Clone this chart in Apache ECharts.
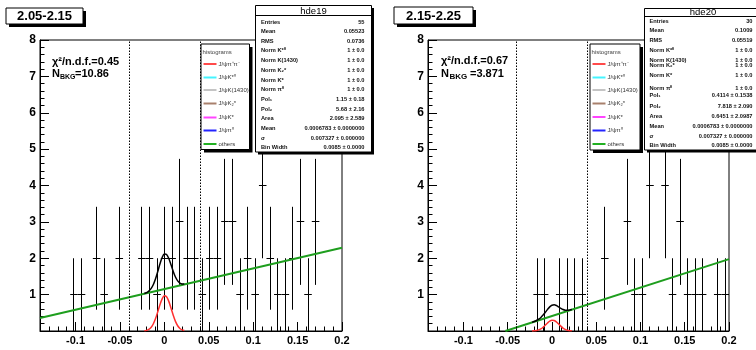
<!DOCTYPE html>
<html><head><meta charset="utf-8">
<script src="https://cdn.jsdelivr.net/npm/echarts@6/dist/echarts.min.js"></script>
<style>html,body{margin:0;padding:0;background:#fff}#c{width:756px;height:350px}</style>
</head><body><div id="c"></div>
<script>
// ---------------- data ----------------
const binLow = -0.14;
const binWidth = 0.0085;
const countsA = [0,0,0,0,1,1,0,2,1,0, 2,0,0,2,2,1,2,2,3,2, 2,1,2,2,3,3,1,2,1,4, 2,1,1,2,3,1,3,0,0,0];
const countsB = [0,0,0,0,0,0,0,0,0,0, 0,0,0,0,1,1,0,1,1,1, 1,0,0,2,0,0,3,1,1,4, 0,4,1,3,1,1,1,0,1,1];
const fitX   = [-0.0225,-0.02,-0.0175,-0.015,-0.0125,-0.01,-0.0075,-0.005,-0.0025,0,0.0025,0.005,0.0075,0.01,0.0125,0.015,0.0175,0.02,0.0225];
const redA   = [0.0065,0.018,0.045,0.098,0.192,0.336,0.520,0.719,0.883,0.966,0.940,0.815,0.629,0.432,0.264,0.144,0.070,0.030,0.0115];
const blackA = [1.029,1.054,1.095,1.163,1.271,1.429,1.627,1.841,2.019,2.116,2.104,1.993,1.822,1.639,1.485,1.379,1.319,1.294,1.289];
const redB   = [0.002,0.0055,0.0138,0.0302,0.0591,0.1035,0.160,0.2215,0.272,0.2975,0.2895,0.251,0.1937,0.133,0.0813,0.0444,0.0214,0.0092,0.0035];
const blackB = [0.2375,0.2605,0.288,0.324,0.373,0.437,0.513,0.594,0.664,0.709,0.720,0.701,0.664,0.623,0.590,0.573,0.570,0.577,0.591];
const greenAx = [-0.14, 0.2];
const greenAy = [0.355, 2.286];
const greenBx = [-0.0526, 0.2];
const greenBy = [0, 1.975];
const windowEdges = [-0.04, 0.04];
const xTickValues = [-0.1,-0.05,0,0.05,0.1,0.15,0.2];
const xTickLabels = ['-0.1','-0.05','0','0.05','0.1','0.15','0.2'];
const panelTitles = ['2.05-2.15','2.15-2.25'];
const statTitles = ['hde19','hde20'];
const chiTexts = ['\u03C7\u00B2/n.d.f.=0.45','\u03C7\u00B2/n.d.f.=0.67'];
const nbkgValues = ['=10.86','=3.871'];
const statLabels = ['Entries','Mean','RMS','Norm K*\u2070','Norm K(1430)','Norm K\u2082*','Norm K*','Norm \u03C0\u2070','Pol\u2081','Pol\u2082','Area','Mean','\u03C3','Bin Width'];
const statValuesA = ['55','0.05523','0.0736','1 \u00B1 0.0','1 \u00B1 0.0','1 \u00B1 0.0','1 \u00B1 0.0','1 \u00B1 0.0','1.15 \u00B1 0.18','5.68 \u00B1 2.16','2.095 \u00B1 2.589','0.0006783 \u00B1 0.0000000','0.007327 \u00B1 0.000000','0.0085 \u00B1 0.0000'];
const statValuesB = ['30','0.1009','0.05519','1 \u00B1 0.0','1 \u00B1 0.0','1 \u00B1 0.0','1 \u00B1 0.0','1 \u00B1 0.0','0.4114 \u00B1 0.1538','7.818 \u00B1 2.090','0.6451 \u00B1 2.0987','0.0006783 \u00B1 0.0000000','0.007327 \u00B1 0.000000','0.0085 \u00B1 0.0000'];
const legendHeader = 'histograms';
const legendLabels = ['J/\u03C8\u03C0\u207A\u03C0\u207B','J/\u03C8K*\u2070','J/\u03C8K(1430)','J/\u03C8K\u2082*','J/\u03C8K*','J/\u03C8\u03C0\u2070','others'];
const legendColors = ['#ff4a4a','#44f4ff','#c4c4c4','#a8806c','#ff44ff','#2424ff','#22b022'];

// ---------------- layout ----------------
const FONT = '"Liberation Sans", Arial, Helvetica, sans-serif';
const grids = [
  {left:40, top:40, width:302, height:291},
  {left:428, top:40, width:301, height:291}
];
const layouts = [
  {title:{x:6,y:8,w:77,h:16}, chi:{x:52,y:62}, nb:{x:52,y:74,sub:60,eq:75,subSize:7},
   stats:{x:255.5,y:5.5,w:116,h:146.5,sep:15.5,tx:313.5,ty:11,lx:261,vx:364.5,
          rows:[22,31.7,41,50,60,70,80,89,99,109,118,128,138,147]},
   leg:{x:201,y:44,w:48.5,h:105.5,head:52,rows:[64,77.5,90,103.5,117.5,130.5,144]}},
  {title:{x:394,y:7,w:79,h:17}, chi:{x:441,y:61}, nb:{x:441,y:74,sub:449.5,eq:470,subSize:8},
   stats:{x:644.5,y:8.5,w:118,h:141.5,sep:16.5,tx:703,ty:12.5,lx:649.5,vx:752.5,
          rows:[21,30.7,40,50.7,60.3,65.5,75,88.5,95.7,106,116.7,126.7,136,145.7]},
   leg:{x:590,y:44,w:50,h:106,head:52,rows:[64,77.5,90,103.5,117,130.5,144]}}
];

function histData(counts){
  const out=[];
  counts.forEach((n,i)=>{ if(n>0) out.push([binLow+(i+0.5)*binWidth, n]); });
  return out;
}
function pairs(xs, ys){ return xs.map((x,i)=>[x, ys[i]]); }
function snap(v){ return Math.round(v - 0.5) + 0.5; }

function renderErr(params, api){
  const c = api.value(0), v = api.value(1), e = Math.sqrt(v), h = binWidth/2;
  const top = api.coord([c, v+e]), bot = api.coord([c, v-e]);
  const l = api.coord([c-h, v]), r = api.coord([c+h, v]);
  const st = {stroke:'#000', lineWidth:1};
  const xs = snap(top[0]), ys = snap(l[1]);
  return {type:'group', children:[
    {type:'line', shape:{x1:xs,y1:top[1],x2:xs,y2:bot[1]}, style:st},
    {type:'line', shape:{x1:l[0],y1:ys,x2:r[0],y2:ys}, style:st}
  ]};
}

const xAxes = [], yAxes = [], series = [], graphic = [];
const counts = [countsA, countsB];
const reds = [redA, redB], blacks = [blackA, blackB];
const greens = [pairs(greenAx, greenAy), pairs(greenBx, greenBy)];
const statVals = [statValuesA, statValuesB];

for (let g=0; g<2; g++){
  xAxes.push({gridIndex:g, type:'value', min:-0.14, max:0.2, position:'bottom',
    axisLine:{show:true, onZero:false, lineStyle:{color:'#000', width:1}},
    axisTick:{show:true, inside:true, length:9, customValues:xTickValues, lineStyle:{color:'#000'}},
    axisLabel:{show:true, customValues:xTickValues, formatter:(v)=>xTickLabels[xTickValues.indexOf(v)] ?? String(v),
      color:'#000', fontWeight:'bold', fontSize:11, fontFamily:FONT, margin:4},
    splitLine:{show:false}});
  xAxes.push({gridIndex:g, type:'value', min:-0.14, max:0.2, interval:0.01, position:'bottom',
    axisLine:{show:false}, axisTick:{show:true, inside:true, length:4.5, lineStyle:{color:'#000'}},
    axisLabel:{show:false}, splitLine:{show:false}});
  yAxes.push({gridIndex:g, type:'value', min:0, max:8, interval:1,
    axisLine:{show:true, onZero:false, lineStyle:{color:'#000', width:1}},
    axisTick:{show:true, inside:true, length:9, lineStyle:{color:'#000'}},
    minorTick:{show:true, splitNumber:5, length:4.5, lineStyle:{color:'#000'}},
    axisLabel:{formatter:(v)=> v===0 ? '' : String(v), color:'#000', fontWeight:'bold', fontSize:12, fontFamily:FONT, margin:4},
    splitLine:{show:false}, minorSplitLine:{show:false}});

  const xi = g*2;
  series.push({type:'custom', xAxisIndex:xi, yAxisIndex:g, data:histData(counts[g]), renderItem:renderErr, clip:true, z:2, silent:true});
  series.push({type:'line', xAxisIndex:xi, yAxisIndex:g, data:greens[g], showSymbol:false, symbol:'none', z:4, silent:true,
    lineStyle:{color:'#1e9e1e', width:2},
    markLine:{silent:true, symbol:['none','none'], label:{show:false}, animation:false,
      lineStyle:{type:[1.5,1.5], color:'#000', width:1}, data:windowEdges.map(x=>({xAxis:x}))}});
  series.push({type:'line', xAxisIndex:xi, yAxisIndex:g, data:pairs(fitX, blacks[g]), showSymbol:false, symbol:'none', smooth:0.3, z:5, silent:true,
    lineStyle:{color:'#000', width:1.5}});
  series.push({type:'line', xAxisIndex:xi, yAxisIndex:g, data:pairs(fitX, reds[g]), showSymbol:false, symbol:'none', smooth:0.3, z:5, silent:true,
    lineStyle:{color:'#ff3030', width:1.5}});

  const L = layouts[g];
  graphic.push({type:'rect', z:100, shape:{x:L.title.x+3, y:L.title.y+3, width:L.title.w, height:L.title.h}, style:{fill:'#000'}});
  graphic.push({type:'rect', z:101, shape:{x:L.title.x, y:L.title.y, width:L.title.w, height:L.title.h}, style:{fill:'#fff', stroke:'#000', lineWidth:1}});
  graphic.push({type:'text', z:102, style:{text:panelTitles[g], x:L.title.x+L.title.w/2, y:L.title.y+L.title.h/2+0.5, textAlign:'center', textVerticalAlign:'middle',
    font:'bold 13px '+FONT, fill:'#000'}});
  graphic.push({type:'text', z:102, style:{text:chiTexts[g], x:L.chi.x, y:L.chi.y, textVerticalAlign:'middle', font:'bold 11px '+FONT, fill:'#000'}});
  graphic.push({type:'text', z:102, style:{text:'N', x:L.nb.x, y:L.nb.y, textVerticalAlign:'middle', font:'bold 11px '+FONT, fill:'#000'}});
  graphic.push({type:'text', z:102, style:{text:'BKG', x:L.nb.sub, y:L.nb.y+3, textVerticalAlign:'middle', font:'bold '+L.nb.subSize+'px '+FONT, fill:'#000'}});
  graphic.push({type:'text', z:102, style:{text:nbkgValues[g], x:L.nb.eq, y:L.nb.y, textVerticalAlign:'middle', font:'bold 11px '+FONT, fill:'#000'}});
  const lg = L.leg;
  graphic.push({type:'rect', z:100, shape:{x:lg.x+3, y:lg.y+3, width:lg.w, height:lg.h}, style:{fill:'#000'}});
  graphic.push({type:'rect', z:101, shape:{x:lg.x, y:lg.y, width:lg.w, height:lg.h}, style:{fill:'#fff', stroke:'#000', lineWidth:1}});
  graphic.push({type:'text', z:102, style:{text:legendHeader, x:lg.x+1.5, y:lg.head, textVerticalAlign:'middle', font:'6px '+FONT, fill:'#444'}});
  legendLabels.forEach((t,i)=>{
    graphic.push({type:'line', z:102, shape:{x1:lg.x+2.5, y1:lg.rows[i], x2:lg.x+15.5, y2:lg.rows[i]}, style:{stroke:legendColors[i], lineWidth:2}});
    graphic.push({type:'text', z:102, style:{text:t, x:lg.x+17.5, y:lg.rows[i], textVerticalAlign:'middle', font:'6px '+FONT, fill:'#333'}});
  });
  const s = L.stats;
  graphic.push({type:'rect', z:100, shape:{x:s.x+2.5, y:s.y+2.5, width:s.w, height:s.h}, style:{fill:'#000'}});
  graphic.push({type:'rect', z:101, shape:{x:s.x, y:s.y, width:s.w, height:s.h}, style:{fill:'#fff', stroke:'#000', lineWidth:1}});
  graphic.push({type:'line', z:102, shape:{x1:s.x, y1:s.sep, x2:s.x+s.w, y2:s.sep}, style:{stroke:'#000', lineWidth:1}});
  graphic.push({type:'text', z:102, style:{text:statTitles[g], x:s.tx, y:s.ty, textAlign:'center', textVerticalAlign:'middle', font:'9.5px '+FONT, fill:'#000'}});
  statLabels.forEach((t,i)=>{
    graphic.push({type:'text', z:102, style:{text:t, x:s.lx, y:s.rows[i], textVerticalAlign:'middle', font:'bold 5.7px '+FONT, fill:'#111'}});
    graphic.push({type:'text', z:102, style:{text:statVals[g][i], x:s.vx, y:s.rows[i], textAlign:'right', textVerticalAlign:'middle', font:'bold 5.7px '+FONT, fill:'#111'}});
  });
}

const chart = echarts.init(document.getElementById('c'), null, {renderer:'canvas', width:756, height:350});
chart.setOption({
  animation:false,
  backgroundColor:'#fff',
  grid: grids.map(gr=>Object.assign({show:true, borderColor:'#000', borderWidth:1, backgroundColor:'#fff', containLabel:false}, gr)),
  xAxis: xAxes,
  yAxis: yAxes,
  series: series,
  graphic: graphic
});
</script>
</body></html>
